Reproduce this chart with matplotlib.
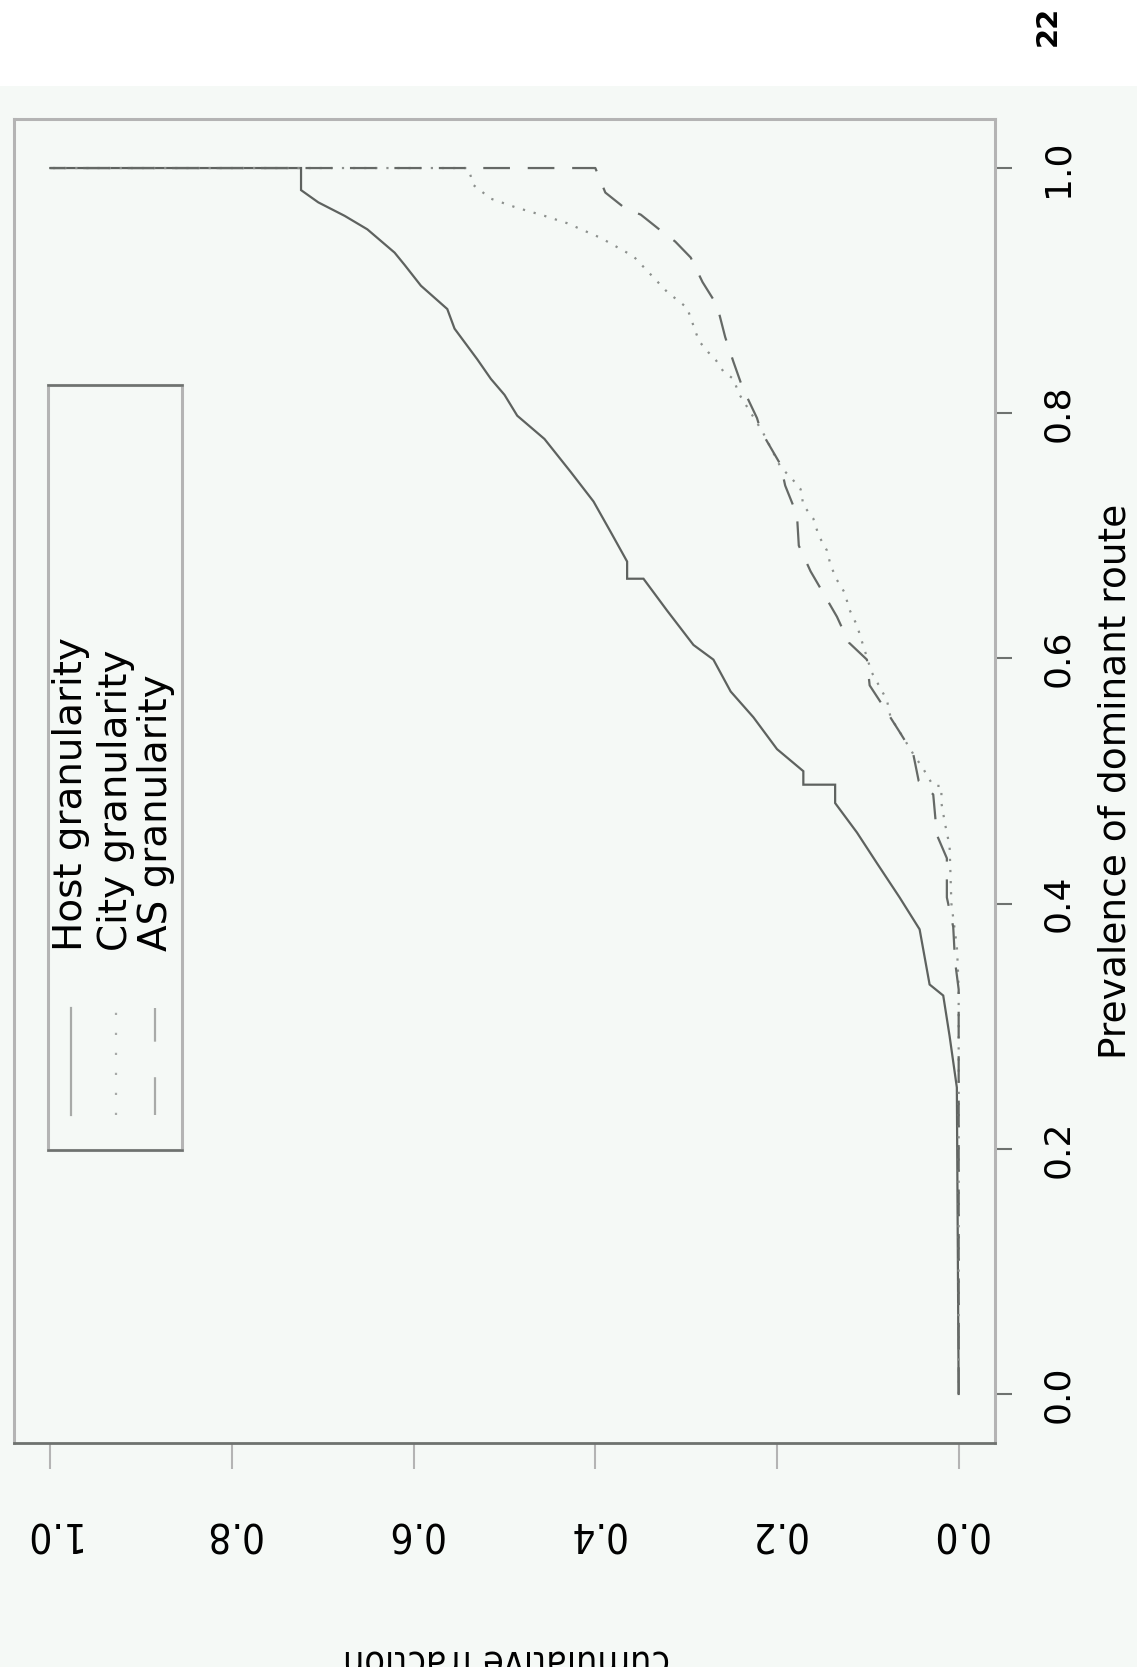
import matplotlib
matplotlib.use('Agg')
import matplotlib.pyplot as plt
from matplotlib.lines import Line2D
from matplotlib.patches import Rectangle
from matplotlib import font_manager

W, H = 1137, 1679
DPI = 100

# ---- data (prevalence of dominant route vs cumulative fraction) ----
host_prev = [0.0, 0.25, 0.292, 0.325, 0.334, 0.379, 0.405, 0.433, 0.458, 0.482,
             0.497, 0.497, 0.508, 0.526, 0.552, 0.573, 0.599, 0.611, 0.639, 0.665,
             0.665, 0.679, 0.703, 0.728, 0.752, 0.779, 0.798, 0.815, 0.828, 0.844,
             0.869, 0.885, 0.904, 0.921, 0.931, 0.950, 0.961, 0.972, 0.982, 1.0, 1.0]
host_frac = [0.0, 0.002, 0.010, 0.017, 0.032, 0.043, 0.065, 0.090, 0.112, 0.136,
             0.136, 0.171, 0.171, 0.200, 0.226, 0.251, 0.270, 0.292, 0.321, 0.347,
             0.365, 0.365, 0.383, 0.402, 0.427, 0.456, 0.486, 0.500, 0.515, 0.530,
             0.555, 0.563, 0.592, 0.610, 0.621, 0.651, 0.676, 0.705, 0.724, 0.724, 1.0]

city_prev = [0.0, 0.33, 0.35, 0.365, 0.40, 0.447, 0.465, 0.482, 0.496, 0.496,
             0.51, 0.522, 0.533, 0.552, 0.566, 0.589, 0.615, 0.627, 0.641, 0.653,
             0.664, 0.676, 0.688, 0.70, 0.714, 0.725, 0.738, 0.747, 0.756, 0.785,
             0.816, 0.828, 0.834, 0.843, 0.850, 0.859, 0.886, 0.899, 0.928, 0.943,
             0.955, 0.961, 0.968, 0.975, 0.986, 1.0, 1.0]
city_frac = [0.0, 0.0, 0.001, 0.002, 0.008, 0.010, 0.015, 0.019, 0.019, 0.028,
             0.039, 0.050, 0.059, 0.075, 0.079, 0.096, 0.107, 0.112, 0.121, 0.125,
             0.134, 0.141, 0.145, 0.154, 0.160, 0.171, 0.174, 0.184, 0.196, 0.216,
             0.242, 0.248, 0.259, 0.267, 0.276, 0.286, 0.299, 0.321, 0.358, 0.394,
             0.431, 0.456, 0.488, 0.515, 0.534, 0.54, 1.0]

as_prev = [0.0, 0.33, 0.353, 0.381, 0.405, 0.437, 0.456, 0.489, 0.50, 0.522,
           0.540, 0.561, 0.578, 0.599, 0.613, 0.634, 0.657, 0.671, 0.692, 0.717,
           0.741, 0.758, 0.786, 0.796, 0.821, 0.842, 0.862, 0.888, 0.907, 0.927,
           0.940, 0.949, 0.962, 0.967, 0.980, 1.0, 1.0]
as_frac = [0.0, 0.0, 0.004, 0.006, 0.013, 0.013, 0.024, 0.028, 0.044, 0.050,
           0.065, 0.083, 0.098, 0.101, 0.121, 0.134, 0.152, 0.163, 0.176, 0.178,
           0.191, 0.196, 0.218, 0.222, 0.238, 0.248, 0.257, 0.266, 0.282, 0.295,
           0.312, 0.328, 0.350, 0.367, 0.389, 0.40, 1.0]

prev_ticks = [0.0, 0.2, 0.4, 0.6, 0.8, 1.0]
prev_labels = ['0.0', '0.2', '0.4', '0.6', '0.8', '1.0']
frac_ticks = [0.0, 0.2, 0.4, 0.6, 0.8, 1.0]
frac_labels = ['0.0', '0.2', '0.4', '0.6', '0.8', '1.0']

legend_labels = ['Host granularity', 'City granularity', 'AS granularity']
x_title = 'Prevalence of dominant route'
y_title = 'cumulative fraction'
page_no = '22'

# ---- fonts ----
names = {f.name for f in font_manager.fontManager.ttflist}
NARROW = ['Liberation Sans Narrow', 'DejaVu Sans'] if 'Liberation Sans Narrow' in names else ['DejaVu Sans']
plt.rcParams['font.family'] = ['DejaVu Sans']

BG = '#f5f9f6'
LIGHT = '#b4b4b4'
DARK = '#6e726f'

fig = plt.figure(figsize=(W / DPI, H / DPI), dpi=DPI, facecolor='white')


def fx(x):
    return x / W


def fy(y):
    return 1 - y / H


# page background band
fig.add_artist(Rectangle((0, fy(1667)), 1, fy(86) - fy(1667), transform=fig.transFigure,
                         facecolor=BG, edgecolor='none', zorder=-10))

ax = fig.add_axes([fx(14), fy(1443), fx(995) - fx(14), fy(119) - fy(1443)])
ax.set_facecolor(BG)
ax.set_xlim(1.04, -0.04)
ax.set_ylim(-0.04, 1.04)

ax.plot(host_frac, host_prev, color='#5e625f', lw=1.6, solid_joinstyle='miter')
ax.plot(city_frac, city_prev, color='#8c908d', lw=1.6, linestyle=(0, (1, 4)))
ax.plot(as_frac, as_prev, color='#656966', lw=1.6, linestyle=(0, (12, 8)))

for s in ['top', 'left', 'right']:
    ax.spines[s].set_color(LIGHT)
    ax.spines[s].set_linewidth(2.2)
ax.spines['bottom'].set_color(DARK)
ax.spines['bottom'].set_linewidth(2.0)

ax.set_xticks(frac_ticks)
ax.set_xticklabels(frac_labels, rotation=180, family=NARROW, fontstretch='condensed',
                   fontsize=29)
ax.tick_params(axis='x', direction='out', length=18.7, width=1.5, color=LIGHT, pad=31)

ax.yaxis.tick_right()
ax.set_yticks(prev_ticks)
ax.set_yticklabels(prev_labels, rotation=90, fontsize=26, va='center')
ax.tick_params(axis='y', direction='out', length=12, width=1.5, color=DARK, pad=21)

# axis titles (page rotated)
fig.text(fx(1126), fy(781), x_title, rotation=90, rotation_mode='anchor',
         ha='center', va='baseline', fontsize=27)
fig.text(fx(506), fy(1651), y_title, rotation=180, rotation_mode='anchor',
         ha='center', va='baseline', fontsize=27, family=NARROW, fontstretch='condensed')
# bottom white strip cutting the label
fig.add_artist(Rectangle((0, 0), 1, fy(1667), transform=fig.transFigure,
                         facecolor='white', edgecolor='none', zorder=20))

# page number
fig.text(fx(1048), fy(26), page_no, rotation=90, ha='center', va='center',
         fontsize=21, fontweight='bold')

# legend (drawn by hand, rotated)
fig.add_artist(Rectangle((fx(48), fy(1150)), fx(182) - fx(48), fy(385) - fy(1150),
                         transform=fig.transFigure, facecolor=BG, edgecolor=LIGHT,
                         lw=2.2, zorder=5))
for yy in (385, 1150):
    fig.add_artist(Line2D([fx(48), fx(182)], [fy(yy), fy(yy)], transform=fig.transFigure,
                          color=DARK, lw=1.8, zorder=6))
handle_x = [71, 116, 155]
text_x = [82, 127, 167]
styles = ['-', (0, (1, 8)), (0, (17, 16))]
for hx, tx, st, lab in zip(handle_x, text_x, styles, legend_labels):
    fig.add_artist(Line2D([fx(hx), fx(hx)], [fy(1115), fy(1008)], transform=fig.transFigure,
                          color='#a8aaa8', lw=1.6, linestyle=st, zorder=6))
    fig.text(fx(tx), fy(951), lab, rotation=90, rotation_mode='anchor',
             ha='left', va='baseline', fontsize=28, zorder=7)

fig.savefig('out.png', dpi=DPI, facecolor='white')
